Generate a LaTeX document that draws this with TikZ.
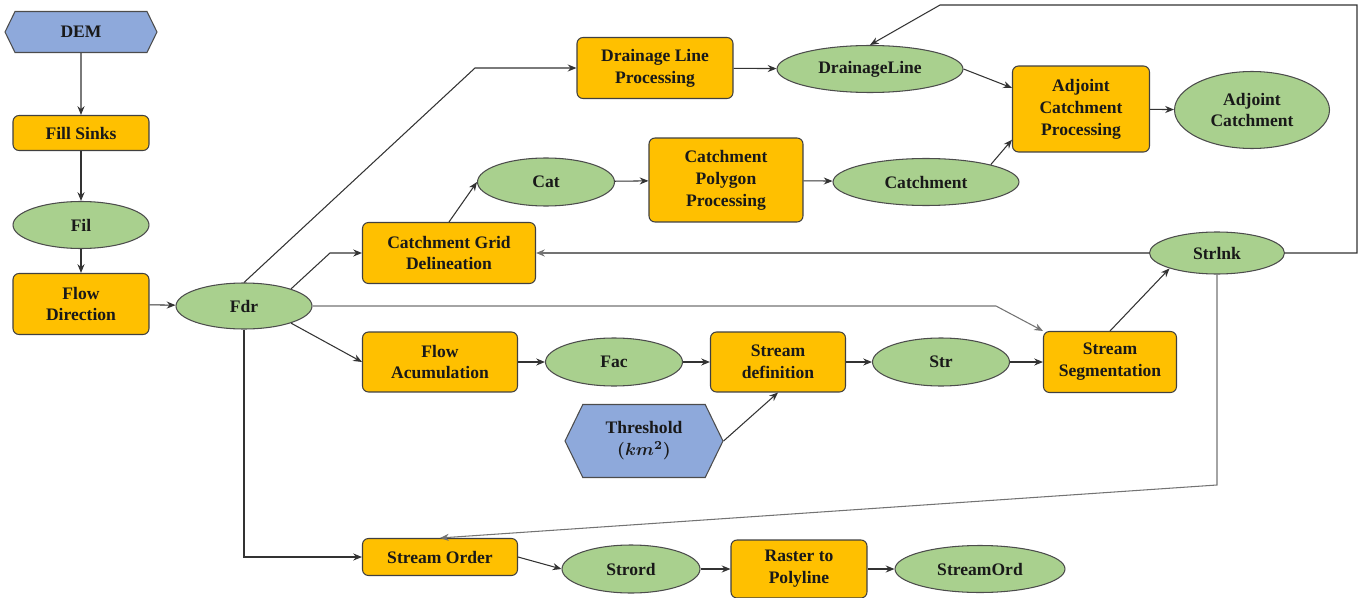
\documentclass[tikz,border=0pt]{standalone}
\usepackage{fontspec}
\setmainfont{Liberation Serif}
\usepackage{bm}
\usetikzlibrary{shapes.geometric,shapes.symbols,arrows.meta}
\definecolor{toolorange}{RGB}{255,192,0}
\definecolor{layergreen}{RGB}{169,208,142}
\definecolor{inputblue}{RGB}{142,169,219}

\begin{document}
\begin{tikzpicture}[
    x=0.02cm, y=-0.02cm,
    >={Stealth[length=5pt,width=4pt]},
    every node/.style={font=\fontsize{10}{12.5}\selectfont\bfseries, align=center, inner sep=1pt, text=black!90},
    box/.style={rectangle, draw=black!75, line width=0.6pt, rounded corners=0.12cm},
    tool/.style={box, fill=toolorange},
    layer/.style={ellipse, draw=black!70, line width=0.6pt, fill=layergreen},
    source/.style={signal, signal to=west and east, signal pointer angle=128, draw=black!70, line width=0.6pt, fill=inputblue},
    link/.style={->, black!80, line width=0.6pt},
    faint/.style={link, black!55}
]
    \useasboundingbox (0,0) rectangle (1363,598);

    % Preprocessing column
    \node[source, minimum width=3.04cm, minimum height=0.82cm] (dem) at (81,32) {DEM};
    \node[tool, minimum width=2.72cm, minimum height=0.70cm] (fill) at (81,133) {Fill Sinks};
    \node[layer, minimum width=2.72cm, minimum height=0.94cm] (fil) at (81,225) {Fil};
    \node[tool, minimum width=2.72cm, minimum height=1.22cm] (flowdir) at (81,304) {Flow\\Direction};
    \node[layer, minimum width=2.72cm, minimum height=0.92cm] (fdr) at (244,306) {Fdr};

    % Catchment branch
    \node[tool, minimum width=3.12cm, minimum height=1.22cm] (dlproc) at (655,68) {Drainage Line\\Processing};
    \node[layer, minimum width=3.72cm, minimum height=0.94cm] (dline) at (870,69) {DrainageLine};
    \node[tool, minimum width=2.74cm, minimum height=1.72cm] (adjproc) at (1081,109) {Adjoint\\Catchment\\Processing};
    \node[layer, minimum width=3.10cm, minimum height=1.54cm] (adjcat) at (1252,110) {Adjoint\\Catchment};
    \node[layer, minimum width=2.74cm, minimum height=0.96cm] (cat) at (546,182) {Cat};
    \node[tool, minimum width=3.08cm, minimum height=1.68cm] (polyproc) at (726,180) {Catchment\\Polygon\\Processing};
    \node[layer, minimum width=3.72cm, minimum height=0.94cm] (catch) at (926,182) {Catchment};
    \node[tool, minimum width=3.46cm, minimum height=1.22cm] (griddel) at (449,253) {Catchment Grid\\Delineation};
    \node[layer, minimum width=2.70cm, minimum height=0.84cm] (strlnk) at (1217,253) {Strlnk};

    % Stream network
    \node[tool, minimum width=3.10cm, minimum height=1.20cm] (flowacc) at (440,362) {Flow\\Acumulation};
    \node[layer, minimum width=2.74cm, minimum height=0.96cm] (fac) at (614,362) {Fac};
    \node[tool, minimum width=2.70cm, minimum height=1.20cm] (streamdef) at (778,362) {Stream\\definition};
    \node[layer, minimum width=2.74cm, minimum height=0.96cm] (str) at (941,362) {Str};
    \node[tool, minimum width=2.66cm, minimum height=1.22cm] (streamseg) at (1110,362) {Stream\\Segmentation};
    \node[source, minimum width=3.16cm, minimum height=1.46cm] (thresh) at (644,441) {Threshold\\$\bm{(km^2)}$};

    % Stream order
    \node[tool, minimum width=3.10cm, minimum height=0.74cm] (streamord) at (440,557) {Stream Order};
    \node[layer, minimum width=2.76cm, minimum height=0.96cm] (strord) at (631,569) {Strord};
    \node[tool, minimum width=2.72cm, minimum height=1.16cm] (topoly) at (799,569) {Raster to\\Polyline};
    \node[layer, minimum width=3.40cm, minimum height=0.94cm] (ordline) at (980,569) {StreamOrd};

    % Connectors
    \draw[link] (dem) -- (fill);
    \draw[link] (fill) -- (fil);
    \draw[link] (fil) -- (flowdir);
    \draw[link] (flowdir) -- (fdr);
    \draw[link] (fdr.north) -- (475,68) -- (dlproc.west);
    \draw[link] (fdr.20) -- (330,253) -- (griddel.west);
    \draw[link] (fdr.-20) -- (flowacc.west);
    \draw[faint] (fdr.east) -- (996,306) -- (streamseg.north west);
    \draw[link] (fdr.south) |- (streamord.west);

    \draw[link] (dlproc) -- (dline);
    \draw[link] (dline.east) -- (adjproc.163);
    \draw[link] (adjproc) -- (adjcat);
    \draw[link] (griddel.north) -- (cat.west);
    \draw[link] (cat) -- (polyproc);
    \draw[link] (polyproc) -- (catch);
    \draw[link] (catch.15) -- (adjproc.-156);

    \draw[link] (flowacc) -- (fac);
    \draw[link] (fac) -- (streamdef);
    \draw[link] (streamdef) -- (str);
    \draw[link] (str) -- (streamseg);
    \draw[link] (thresh.east) -- (streamdef.south);
    \draw[link] (streamseg.north) -- (strlnk.-162);

    \draw[faint] (strlnk.west) -- (griddel.east);
    \draw[link] (strlnk.east) -| (1357,5) -- (940,5) -- (dline.north);
    \draw[faint] (strlnk.south) -- (1217,485) -- (streamord.north);

    \draw[link] (streamord.east) -- (strord.west);
    \draw[link] (strord) -- (topoly);
    \draw[link] (topoly) -- (ordline);
\end{tikzpicture}
\end{document}
